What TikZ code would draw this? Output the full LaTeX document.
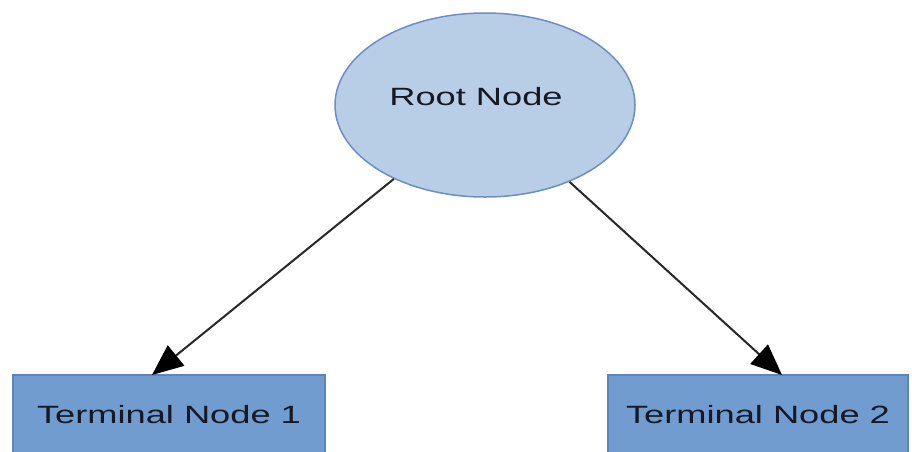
\documentclass[tikz,border=0pt]{standalone}
\usepackage{fontspec}
\setmainfont{Liberation Sans}
\newfontfamily\lab[FakeStretch=1.45]{Liberation Sans}
\usetikzlibrary{arrows.meta,shapes.geometric}
\definecolor{ellfill}{RGB}{184,206,231}
\definecolor{elldraw}{RGB}{108,142,196}
\definecolor{boxfill}{RGB}{112,156,208}
\definecolor{boxdraw}{RGB}{92,132,192}
\definecolor{txt}{RGB}{22,24,36}
\definecolor{edge}{RGB}{40,40,40}
\tikzset{
  rootnode/.style={ellipse,fill=ellfill,draw=elldraw,line width=1.5pt,minimum width=300pt,minimum height=184pt,inner sep=0pt},
  termbox/.style={rectangle,fill=boxfill,draw=boxdraw,line width=1.5pt,inner sep=0pt,minimum height=80pt,text=txt,font=\lab\fontsize{25}{30}\selectfont},
  arr/.style={draw=edge,line width=2pt,-{Triangle[length=31pt,width=26pt,fill=black,color=black]}}
}
\begin{document}
\begin{tikzpicture}[x=1pt,y=-1pt]
\useasboundingbox (0,0) rectangle (912,451);
\clip (0,0) rectangle (912,451);
\node[rootnode,label={[text=txt,font=\lab\fontsize{25}{30}\selectfont,xshift=-9pt,yshift=8pt]center:Root Node}] (root) at (485,105) {};
\node[termbox,minimum width=312pt] (t1) at (169,415) {Terminal Node 1};
\node[termbox,minimum width=300pt] (t2) at (758,415) {Terminal Node 2};
\coordinate (e1) at (152,375);
\coordinate (e2) at (782,375);
\draw[arr] (root) -- (e1);
\draw[arr] (root) -- (e2);
\end{tikzpicture}
\end{document}
